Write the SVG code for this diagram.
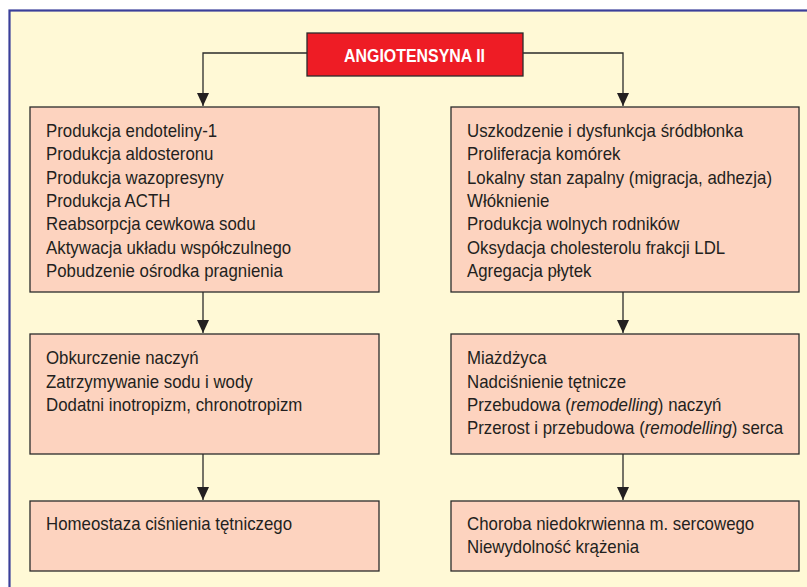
<svg xmlns="http://www.w3.org/2000/svg" width="807" height="587" viewBox="0 0 807 587">
<style>
.box{fill:#FDD3BF;stroke:#2b2b2b;stroke-width:1.3}
.t{font-family:"Liberation Sans",Arial,sans-serif;font-size:18.3px;fill:#231f20}
.h{font-family:"Liberation Sans",Arial,sans-serif;font-size:19px;font-weight:bold;fill:#ffffff}
.c{fill:none;stroke:#2b2b2b;stroke-width:1.3}
.i{font-style:italic}
</style>
<defs>
<marker id="ah" markerWidth="13" markerHeight="12" refX="13" refY="6" orient="auto" markerUnits="userSpaceOnUse">
<path d="M0,0 L13,6 L0,12 Z" fill="#231f20"/>
</marker>
</defs>
<rect x="0" y="0" width="807" height="587" fill="#ffffff"/>
<rect x="9.5" y="10.5" width="820" height="600" fill="#FFF9D6" stroke="#3A3F9A" stroke-width="2.2"/>
<g id="connectors">
<path class="c" d="M307,53 H203 V106" marker-end="url(#ah)"/>
<path class="c" d="M523,53 H623 V106" marker-end="url(#ah)"/>
<path class="c" d="M203,292 V333" marker-end="url(#ah)"/>
<path class="c" d="M623,292 V333" marker-end="url(#ah)"/>
<path class="c" d="M203,454 V500" marker-end="url(#ah)"/>
<path class="c" d="M623,454 V500" marker-end="url(#ah)"/>
</g>
<g id="angiotensyna">
<rect x="307" y="33" width="216" height="43" fill="#EE1C25" stroke="#2b2b2b" stroke-width="1.3"/>
<text class="h" x="344" y="61.5" textLength="141" lengthAdjust="spacingAndGlyphs">ANGIOTENSYNA II</text>
</g>
<g id="left1">
<rect class="box" x="30" y="107" width="349" height="185"/>
<g transform="translate(46,0) scale(0.92,1)">
<text class="t" x="0" y="137">Produkcja endoteliny-1</text>
<text class="t" x="0" y="160.3">Produkcja aldosteronu</text>
<text class="t" x="0" y="183.6">Produkcja wazopresyny</text>
<text class="t" x="0" y="207">Produkcja ACTH</text>
<text class="t" x="0" y="230.3">Reabsorpcja cewkowa sodu</text>
<text class="t" x="0" y="253.6">Aktywacja układu współczulnego</text>
<text class="t" x="0" y="277">Pobudzenie ośrodka pragnienia</text>
</g>
</g>
<g id="right1">
<rect class="box" x="451" y="107" width="348" height="185"/>
<g transform="translate(467,0) scale(0.92,1)">
<text class="t" x="0" y="137">Uszkodzenie i dysfunkcja śródbłonka</text>
<text class="t" x="0" y="160.3">Proliferacja komórek</text>
<text class="t" x="0" y="183.6">Lokalny stan zapalny (migracja, adhezja)</text>
<text class="t" x="0" y="207">Włóknienie</text>
<text class="t" x="0" y="230.3">Produkcja wolnych rodników</text>
<text class="t" x="0" y="253.6">Oksydacja cholesterolu frakcji LDL</text>
<text class="t" x="0" y="277">Agregacja płytek</text>
</g>
</g>
<g id="left2">
<rect class="box" x="30" y="334" width="349" height="120"/>
<g transform="translate(46,0) scale(0.92,1)">
<text class="t" x="0" y="364.5">Obkurczenie naczyń</text>
<text class="t" x="0" y="387.8">Zatrzymywanie sodu i wody</text>
<text class="t" x="0" y="411.1">Dodatni inotropizm, chronotropizm</text>
</g>
</g>
<g id="right2">
<rect class="box" x="451" y="334" width="348" height="120"/>
<g transform="translate(467,0) scale(0.92,1)">
<text class="t" x="0" y="364.5">Miażdżyca</text>
<text class="t" x="0" y="387.8">Nadciśnienie tętnicze</text>
<text class="t" x="0" y="411.1">Przebudowa (<tspan class="i">remodelling</tspan>) naczyń</text>
<text class="t" x="0" y="434.4">Przerost i przebudowa (<tspan class="i">remodelling</tspan>) serca</text>
</g>
</g>
<g id="left3">
<rect class="box" x="30" y="501" width="349" height="70"/>
<g transform="translate(46,0) scale(0.92,1)">
<text class="t" x="0" y="530">Homeostaza ciśnienia tętniczego</text>
</g>
</g>
<g id="right3">
<rect class="box" x="451" y="501" width="348" height="70"/>
<g transform="translate(467,0) scale(0.92,1)">
<text class="t" x="0" y="530">Choroba niedokrwienna m. sercowego</text>
<text class="t" x="0" y="553.3">Niewydolność krążenia</text>
</g>
</g>
</svg>
